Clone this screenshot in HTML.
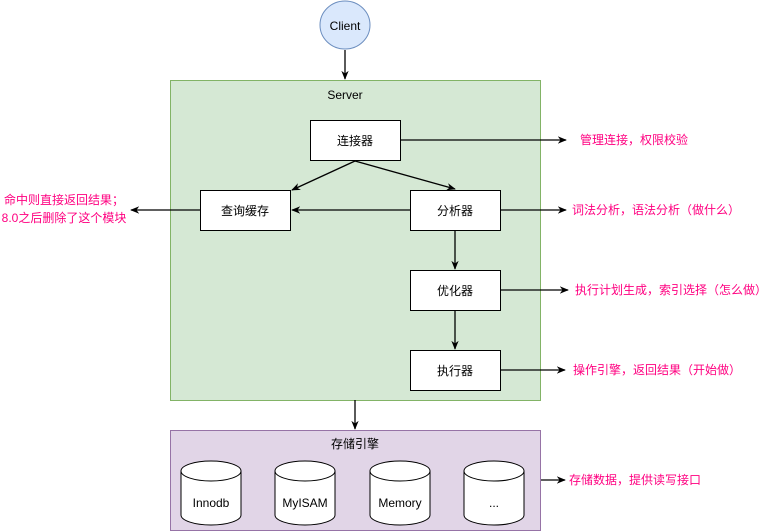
<!DOCTYPE html>
<html><head><meta charset="utf-8"><style>
body{margin:0;background:#fff;}
svg{display:block;}
text{font-family:"Liberation Sans","Noto Sans CJK SC",sans-serif;}
</style></head><body>
<svg width="771" height="531" viewBox="0 0 771 531" xmlns="http://www.w3.org/2000/svg">
<defs><marker id="a" viewBox="0 0 10 10" refX="9" refY="5" markerWidth="7" markerHeight="7" orient="auto"><path d="M0,1 L10,5 L0,9 L3,5 Z" fill="#000"/></marker></defs>
<ellipse cx="345" cy="25" rx="25" ry="24" fill="#dae8fc" stroke="#6c8ebf"/>
<text x="345" y="30" font-size="12" text-anchor="middle">Client</text>
<line x1="345" y1="50" x2="345" y2="79" stroke="#000" stroke-width="1.3" marker-end="url(#a)"/>
<rect x="170.5" y="80.5" width="370" height="320" fill="#d5e8d4" stroke="#82b366"/>
<text x="345" y="99" font-size="12" text-anchor="middle">Server</text>
<g fill="#fff" stroke="#000">
<rect x="310.5" y="120.5" width="90" height="40"/>
<rect x="200.5" y="190.5" width="90" height="40"/>
<rect x="410.5" y="190.5" width="90" height="40"/>
<rect x="410.5" y="270.5" width="90" height="40"/>
<rect x="410.5" y="350.5" width="90" height="40"/>
</g>
<g font-size="12" text-anchor="middle">
<text x="355" y="145">连接器</text>
<text x="245" y="215">查询缓存</text>
<text x="455" y="215">分析器</text>
<text x="455" y="295">优化器</text>
<text x="455" y="375">执行器</text>
</g>
<g stroke="#000" stroke-width="1.3" marker-end="url(#a)">
<line x1="355" y1="161" x2="292" y2="190"/>
<line x1="355" y1="161" x2="455" y2="189"/>
<line x1="410" y1="210" x2="292" y2="210"/>
<line x1="455" y1="230" x2="455" y2="269"/>
<line x1="455" y1="310" x2="455" y2="349"/>
<line x1="400" y1="140" x2="566" y2="140"/>
<line x1="500" y1="210" x2="566" y2="210"/>
<line x1="500" y1="290" x2="568" y2="290"/>
<line x1="500" y1="370" x2="565" y2="370"/>
<line x1="200" y1="210" x2="131" y2="210"/>
<line x1="355" y1="400" x2="355" y2="429"/>
<line x1="540" y1="480" x2="565" y2="480"/>
</g>
<rect x="170.5" y="430.5" width="370" height="100" fill="#e1d5e7" stroke="#9673a6"/>
<text x="355" y="448" font-size="12" text-anchor="middle">存储引擎</text>
<g fill="#fff" stroke="#000">
<path d="M181,471 a30,10 0 0 1 60,0 v44 a30,10 0 0 1 -60,0 Z"/><path d="M181,471 a30,10 0 0 0 60,0" fill="none"/>
<path d="M275,471 a30,10 0 0 1 60,0 v44 a30,10 0 0 1 -60,0 Z"/><path d="M275,471 a30,10 0 0 0 60,0" fill="none"/>
<path d="M370,471 a30,10 0 0 1 60,0 v44 a30,10 0 0 1 -60,0 Z"/><path d="M370,471 a30,10 0 0 0 60,0" fill="none"/>
<path d="M464,471 a30,10 0 0 1 60,0 v44 a30,10 0 0 1 -60,0 Z"/><path d="M464,471 a30,10 0 0 0 60,0" fill="none"/>
</g>
<g font-size="12" text-anchor="middle">
<text x="211" y="507">Innodb</text>
<text x="305" y="507">MyISAM</text>
<text x="400" y="507">Memory</text>
<text x="494" y="507">...</text>
</g>
<g font-size="12" fill="#ff0080">
<text x="580" y="144">管理连接，权限校验</text>
<text x="572" y="214">词法分析，语法分析（做什么）</text>
<text x="575" y="294">执行计划生成，索引选择（怎么做）</text>
<text x="573" y="374">操作引擎，返回结果（开始做）</text>
<text x="569" y="484">存储数据，提供读写接口</text>
<text x="64" y="204" text-anchor="middle">命中则直接返回结果；</text>
<text x="64" y="222" text-anchor="middle">8.0之后删除了这个模块</text>
</g>
</svg>
</body></html>
